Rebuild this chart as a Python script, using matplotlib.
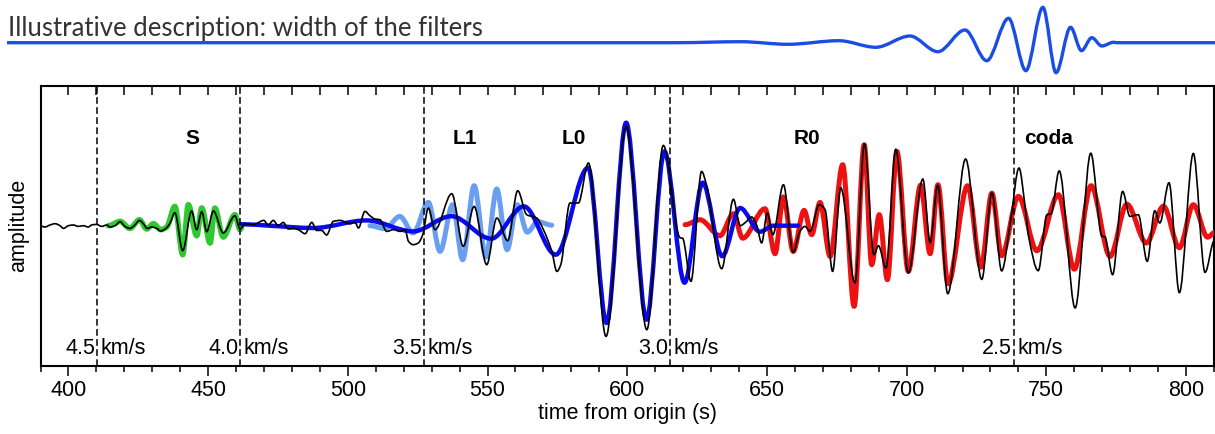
import numpy as np
import matplotlib
matplotlib.use("Agg")
from matplotlib import pyplot as plt
from matplotlib.path import Path
from matplotlib.patches import PathPatch
from matplotlib import transforms

#------------------------------------------------------------------------------
# Data: (time in s, amplitude in arbitrary units)
#------------------------------------------------------------------------------
distance_km = 1846.0
velocities = [4.5, 4.0, 3.5, 3.0, 2.5]

phase_names = ['S', 'L1', 'L0', 'R0', 'coda']
phase_times = [444.5, 541.9, 580.9, 664.3, 750.7]

black_t = [389.8, 391.6, 393.4, 395.2, 397.0, 398.2, 400.0, 401.8, 403.5, 405.3,
           407.1, 408.3, 410.1, 411.9, 413.7, 414.9, 416.7, 418.5, 420.2, 422.0,
           423.8, 425.4, 426.8, 428.2, 429.8, 431.6, 433.0, 434.9, 436.4, 438.1,
           440.9, 444.1, 445.9, 447.7, 449.5, 451.9, 455.4, 459.6, 461.4, 463.2,
           466.2, 469.9, 471.5, 473.3, 475.1, 476.9, 478.7, 480.5, 482.3, 484.7,
           487.1, 488.8, 490.6, 492.4, 494.8, 497.2, 500.8, 502.6, 503.8, 506.1,
           507.9, 509.7, 511.5, 513.9, 516.3, 518.7, 520.5, 521.7, 523.4, 525.2,
           526.8, 528.8, 531.2, 537.2, 541.3, 545.2, 549.7, 553.3, 557.2, 560.8,
           564.0, 567.6, 570.0, 573.0, 574.8, 576.2, 579.5, 582.5, 586.1, 592.4,
           599.6, 607.0, 612.9, 618.9, 619.8, 622.8, 626.6, 628.4, 633.8, 638.0,
           640.4, 642.2, 644.5, 646.3, 648.1, 650.1, 652.1, 655.9, 659.4, 661.8,
           663.6, 665.4, 668.7, 670.8, 673.5, 676.4, 681.5, 684.9, 688.3, 689.9,
           692.6, 696.1, 700.6, 705.8, 708.4, 711.1, 714.7, 721.1, 726.9, 730.5,
           734.0, 737.2, 740.2, 742.4, 743.6, 747.1, 750.2, 751.7, 754.6, 760.3,
           765.9, 769.9, 770.9, 773.7, 777.3, 779.9, 782.9, 786.1, 788.8, 790.6,
           793.9, 797.6, 802.6, 806.8, 810.1]
black_a = [0, -1.3, 0.7, 2.0, 0, -2.7, 0, 0.7, -0.7, 0,
           -1.3, 0.7, 1.3, -0.7, 0.7, -1.3, 0, 4.0, -0.7, -2.7,
           0.7, 5.3, 2.0, -2.7, -1.3, -2.7, -5.3, -2.7, 2.7, 13.0,
           -25.0, 14.7, -4.0, 14.0, -6.0, 14.7, -7.3, 10.0, -3.3, 2.0,
           1.0, 5.3, 0.7, 5.3, 0, 3.3, -3.3, -2.7, -4.0, -8.0,
           3.3, -4.7, -4.7, -9.3, 4.3, 5.3, 2.0, 3.3, -2.3, 14.3,
           10.0, 6.7, 6.0, -5.7, -4.0, -5.7, -4.0, -15.7, -19.0, -17.3,
           -9.0, 17.7, -4.0, 32.0, -20.7, 19.3, -39.0, 7.7, -15.0, 35.0,
           11.0, 7.7, -4.0, -25.7, -45.7, -39.0, 22.7, 22.7, 62.7, -110.7,
           99.3, -104.0, 80.3, -12.0, -12.5, -55.7, 54.3, 40.0, -43.0, 26.5,
           0, 3.0, 8.7, 0.7, -17.3, 12.7, -9.0, 41.0, -26.7, -5.7,
           -0.7, -5.7, 21.0, 16.0, -45.7, 38.0, -57.3, 82.0, -29.0, -20.0,
           -42.3, 76.5, -47.3, 46.7, -17.0, 40.5, -68.0, 66.7, -53.7, 33.0,
           -45.2, 5.0, 57.7, 19.0, -10.0, -45.0, 11.0, 12.0, 54.8, -82.3,
           72.5, -10.7, -11.0, -49.0, 34.3, 9.3, 11.0, -35.7, 15.0, 2.7,
           43.0, -67.0, 72.3, -46.7, -15.0]

# S filter (green)
s_t = [414.3, 418.5, 422.0, 425.4, 428.0, 430.4, 433.0, 435.2, 438.1, 440.9,
       442.9, 445.9, 447.7, 450.7, 452.4, 455.4, 459.6, 461.4, 462.0]
s_a = [0, 4.3, -2.7, 6.0, -3.3, 2.0, -4.0, -1.3, 19.3, -29.0,
       21.0, -10.0, 17.7, -17.3, 17.7, -11.3, 11.0, -4.0, -2.0]

# L1 filter (light blue)
l1_t = [507.9, 513.3, 518.6, 523.4, 528.8, 533.0, 537.5, 541.1, 545.2, 549.4,
        553.3, 557.0, 560.6, 564.2, 568.0, 573.0]
l1_a = [0, -3.0, 9.3, -7.3, 23.3, -25.7, 21.0, -34.0, 40.0, -31.3,
        36.7, -24.0, 21.0, -6.5, 4.0, 0.5]

# L0 filter (blue)
l0_t = [461.8, 472.0, 487.6, 506.7, 523.4, 537.0, 551.3, 563.0, 574.4, 586.0,
        592.6, 599.6, 606.9, 613.3, 620.5, 627.0, 634.0, 640.4, 647.5, 652.3,
        661.2]
l0_a = [1.5, 0, -2.3, 5.3, -5.7, 9.5, -13.0, 19.3, -29.0, 58.0,
        -97.3, 103.0, -94.0, 74.3, -57.0, 43.0, -30.5, 17.7, -6.0, 0,
        0]

# R0 filter (red)
r0_t = [620.7, 626.0, 633.2, 638.0, 641.3, 649.3, 652.9, 655.9, 659.4, 663.3,
        666.0, 669.0, 672.6, 677.1, 681.2, 684.8, 687.5, 690.2, 693.1, 696.5,
        700.6, 705.0, 708.4, 711.2, 714.8, 721.8, 726.6, 730.5, 734.0, 740.0,
        746.6, 754.3, 760.0, 766.0, 772.8, 778.8, 785.8, 791.9, 797.6, 802.6,
        807.7, 810.4]
r0_a = [1.0, 6.0, -10.0, 12.0, -12.5, 17.0, -28.0, 28.7, -25.7, 15.3,
        -9.0, 23.3, -30.7, 61.0, -80.7, 81.0, -39.0, 11.0, -54.0, 74.3,
        -45.7, 40.5, -28.0, 41.0, -58.0, 40.0, -41.5, 32.5, -30.0, 29.3,
        -25.0, 31.0, -43.5, 40.0, -30.7, 21.5, -17.3, 19.5, -22.0, 21.0,
        -11.5, -6.5]

# illustrative filter wavelet in the header strip
demo_t = [378.0, 617.4, 640.7, 657.5, 675.8, 689.0, 701.2, 711.2, 720.9, 728.7,
          736.5, 742.7, 748.8, 753.5, 758.7, 762.6, 766.3, 769.9, 774.1, 775.3,
          810.4]
demo_a = [0, 0, 1.0, -1.6, 2.0, -4.6, 6.7, -9.0, 12.7, -18.0,
          24.4, -28.0, 35.4, -30.0, 15.4, -8.0, 5.0, -3.3, 0.4, 0,
          0]


#------------------------------------------------------------------------------
# Smooth curve through the read samples (cubic Bezier, flat at extrema)
#------------------------------------------------------------------------------
def smooth_path(t, a):
  t = np.asarray(t, float)
  a = np.asarray(a, float)
  d = np.diff(a) / np.diff(t)
  m = np.zeros_like(a)
  for i in range(1, len(a) - 1):
    if d[i - 1] * d[i] > 0:
      m[i] = 2.0 / (1.0 / d[i - 1] + 1.0 / d[i])
  verts = [(t[0], a[0])]
  codes = [Path.MOVETO]
  for i in range(len(t) - 1):
    h = t[i + 1] - t[i]
    verts += [(t[i] + h / 3, a[i] + m[i] * h / 3),
              (t[i + 1] - h / 3, a[i + 1] - m[i + 1] * h / 3),
              (t[i + 1], a[i + 1])]
    codes += [Path.CURVE4] * 3
  return Path(verts, codes)


def draw_trace(ax, t, a, color, lw, z):
  ax.add_patch(PathPatch(smooth_path(t, a), facecolor='none', edgecolor=color,
                         lw=lw, zorder=z, joinstyle='round', capstyle='round'))


plt.rcParams['font.family'] = ['Liberation Sans', 'DejaVu Sans']
W, H = 1215, 434
fig = plt.figure(figsize=(W / 100, H / 100), dpi=100)

#------------------------------------------------------------------------------
# Header strip
#------------------------------------------------------------------------------
top = fig.add_axes([7 / W, 1 - 82 / H, (W - 7) / W, 82 / H])
top.set_xlim(378.0, 810.4)
top.set_ylim(-39.3, 42.7)
top.axis('off')
draw_trace(top, demo_t, demo_a, '#1a4ce6', 2.4, 2)
fig.text(8 / W, 1 - 35.7 / H, 'Illustrative description: width of the filters',
         fontsize=18.5, color='#333333', va='baseline', ha='left',
         family='Lato', fontweight='normal')

#------------------------------------------------------------------------------
# Main panel
#------------------------------------------------------------------------------
ax = fig.add_axes([40.5 / W, 68.3 / H, 1173.5 / W, 280 / H])
ax.set_xlim(390, 810)
ax.set_ylim(-140, 140)

draw_trace(ax, s_t, s_a, '#30c830', 4.0, 2)
draw_trace(ax, l1_t, l1_a, '#6a9ef0', 3.6, 2)
draw_trace(ax, r0_t, r0_a, '#ee1111', 3.6, 3)
draw_trace(ax, l0_t, l0_a, '#0a0aee', 3.2, 4)
draw_trace(ax, black_t, black_a, 'black', 1.2, 5)

trans = transforms.blended_transform_factory(ax.transData, ax.transAxes)
for v in velocities:
  tv = distance_km / v
  ax.axvline(tv, color='black', lw=1.1, ls=(0, (4.4, 2.2)), zorder=6)
  ax.annotate('%.1f' % v, xy=(tv, 0.063), xycoords=trans, xytext=(-1.5, 0),
              textcoords='offset points', ha='right', va='center', fontsize=15.5)
  ax.annotate('km/s', xy=(tv, 0.063), xycoords=trans, xytext=(2.5, 0),
              textcoords='offset points', ha='left', va='center', fontsize=15.5)

for name, tp in zip(phase_names, phase_times):
  ax.text(tp, 0.812, name, transform=trans, ha='center', va='center',
          fontsize=15, fontweight='bold')

for s in ax.spines.values():
  s.set_linewidth(1.5)
ax.set_yticks([])
ax.set_xticks(np.arange(400, 801, 50))
ax.set_xticks(np.arange(390, 811, 10), minor=True)
ax.tick_params(axis='x', which='major', direction='out', length=7.5, width=1.1,
               labelsize=15.5, pad=3)
ax.tick_params(axis='x', which='minor', direction='out', length=4.3, width=1.1)
ax.set_xlabel('time from origin (s)', fontsize=15.5, labelpad=1)
ax.set_ylabel('amplitude', fontsize=15.5, labelpad=8)

ax2 = ax.twiny()
ax2.set_xlim(390, 810)
ax2.set_xticks(np.arange(390, 811, 10))
ax2.tick_params(axis='x', direction='in', length=6.7, width=1.1, labeltop=False)
for s in ax2.spines.values():
  s.set_visible(False)

fig.savefig('out.png', dpi=100)
